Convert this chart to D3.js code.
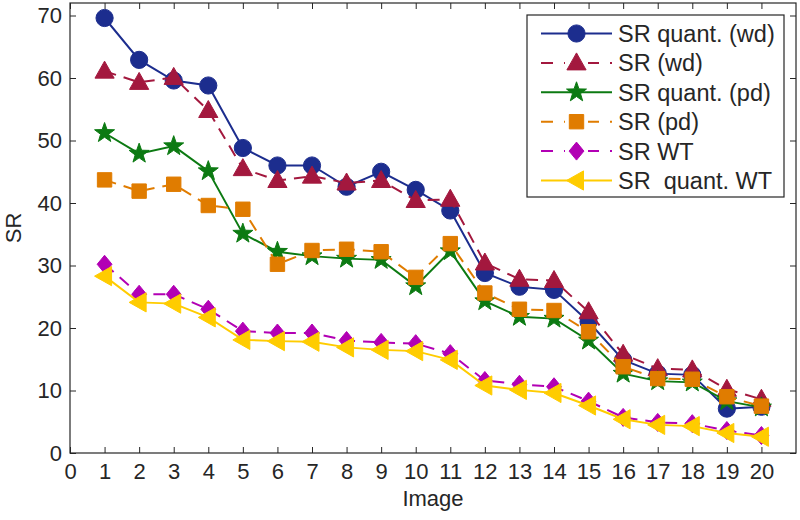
<!DOCTYPE html>
<html><head><meta charset="utf-8">
<script src="https://cdn.jsdelivr.net/npm/d3@7"></script>
<style>
body{margin:0;background:#fff;}
text{font-family:"Liberation Sans",Arial,sans-serif;fill:#262626;}
</style></head>
<body><svg id="c" width="800" height="520"></svg>
<script>
const images = d3.range(1, 21);
const xTicks = d3.range(0, 21);
const yTicks = [0, 10, 20, 30, 40, 50, 60, 70];
const seriesNames = ["SR quant. (wd)", "SR (wd)", "SR quant. (pd)", "SR (pd)", "SR WT", "SR  quant. WT"];
const srQuantWd = [69.6, 62.9, 59.6, 58.8, 48.8, 46.0, 46.0, 42.6, 45.0, 42.1, 38.8, 28.8, 26.6, 26.1, 21.0, 14.9, 12.7, 12.5, 7.1, 7.4];
const srWd      = [61.1, 59.3, 60.1, 54.8, 45.5, 43.6, 44.3, 43.2, 43.6, 40.4, 40.6, 30.4, 27.8, 27.6, 22.6, 15.8, 13.5, 13.3, 10.2, 8.6];
const srQuantPd = [51.2, 47.9, 49.1, 45.1, 35.1, 32.2, 31.5, 31.1, 30.9, 26.7, 32.3, 24.3, 21.8, 21.5, 18.0, 12.7, 11.5, 11.3, 8.3, 7.3];
const srPd      = [43.7, 41.9, 43.0, 39.6, 39.0, 30.2, 32.4, 32.6, 32.2, 28.1, 33.5, 25.6, 23.0, 22.8, 19.4, 13.8, 11.9, 11.8, 9.0, 7.5];
const srWT      = [30.2, 25.4, 25.4, 23.0, 19.5, 19.2, 19.2, 18.0, 17.7, 17.5, 15.9, 11.6, 11.0, 10.6, 8.3, 5.7, 4.9, 4.7, 3.6, 2.8];
const srQuantWT = [28.3, 24.1, 23.9, 21.7, 18.1, 17.9, 17.8, 16.9, 16.5, 16.3, 14.9, 10.8, 10.1, 9.6, 7.6, 5.4, 4.5, 4.3, 3.2, 2.6];
const seriesValues = [srQuantWd, srWd, srQuantPd, srPd, srWT, srQuantWT];
const seriesColors = ["#1c2d8e", "#a3183e", "#0c7a12", "#e07c00", "#b200b4", "#ffcc00"];
const seriesShapes = ["circle", "triangle", "star", "square", "diamond", "left"];
const seriesDashed = [false, true, false, true, true, false];

const svg = d3.select("#c");
const L = 70, R = 796, T = 3, B = 453;
const x = d3.scaleLinear().domain([0, 21]).range([L, R]);
const y = d3.scaleLinear().domain([0, 72]).range([B, T]);

function markerPath(shape) {
  const p = d3.path();
  if (shape === "circle") { p.arc(0, 0, 8.6, 0, 2 * Math.PI); }
  else if (shape === "triangle") { p.moveTo(0, -10); p.lineTo(9.6, 7); p.lineTo(-9.6, 7); p.closePath(); }
  else if (shape === "left") { p.moveTo(-10, 0); p.lineTo(7, -9.6); p.lineTo(7, 9.6); p.closePath(); }
  else if (shape === "square") { p.rect(-7.2, -7.2, 14.4, 14.4); }
  else if (shape === "diamond") { p.moveTo(0, -9); p.lineTo(7.4, 0); p.lineTo(0, 9); p.lineTo(-7.4, 0); p.closePath(); }
  else if (shape === "star") {
    const ro = 10.5, ri = 4.2;
    for (let k = 0; k < 10; k++) {
      const r = k % 2 ? ri : ro, a = -Math.PI / 2 + k * Math.PI / 5;
      if (k === 0) p.moveTo(r * Math.cos(a), r * Math.sin(a)); else p.lineTo(r * Math.cos(a), r * Math.sin(a));
    }
    p.closePath();
  }
  return p.toString();
}

// axes
const gx = svg.append("g").attr("transform", `translate(0,${B})`)
  .call(d3.axisBottom(x).tickValues(xTicks).tickSizeInner(-6).tickSizeOuter(0).tickPadding(10));
const gxt = svg.append("g").attr("transform", `translate(0,${T})`)
  .call(d3.axisTop(x).tickValues(xTicks).tickSizeInner(-6).tickSizeOuter(0).tickFormat(""));
const gy = svg.append("g").attr("transform", `translate(${L},0)`)
  .call(d3.axisLeft(y).tickValues(yTicks).tickSizeInner(-6).tickSizeOuter(0).tickPadding(8));
const gyr = svg.append("g").attr("transform", `translate(${R},0)`)
  .call(d3.axisRight(y).tickValues(yTicks).tickSizeInner(-6).tickSizeOuter(0).tickFormat(""));
[gx, gxt, gy, gyr].forEach(g => {
  g.select(".domain").remove();
  g.selectAll(".tick line").attr("stroke", "#262626");
  g.selectAll(".tick text").style("font-size", "22px").attr("fill", "#262626");
});
gx.selectAll(".tick text").attr("dy", "0.71em");
svg.append("rect").attr("x", L).attr("y", T).attr("width", R - L).attr("height", B - T)
  .attr("fill", "none").attr("stroke", "#262626").attr("stroke-width", 1.2);

svg.append("text").attr("x", (L + R) / 2).attr("y", 506).attr("text-anchor", "middle")
  .style("font-size", "22px").text("Image");
svg.append("text").attr("transform", `translate(21,${(T + B) / 2}) rotate(-90)`).attr("text-anchor", "middle")
  .style("font-size", "22px").text("SR");

// series
seriesValues.forEach((vals, i) => {
  const g = svg.append("g");
  const line = d3.line().x((d, j) => x(images[j])).y(d => y(d));
  g.append("path").datum(vals).attr("d", line).attr("fill", "none")
    .attr("stroke", seriesColors[i]).attr("stroke-width", 2)
    .attr("stroke-dasharray", seriesDashed[i] ? "12,8" : null);
  g.selectAll("path.m").data(vals).enter().append("path").attr("class", "m")
    .attr("d", markerPath(seriesShapes[i]))
    .attr("transform", (d, j) => `translate(${x(images[j])},${y(d)})`)
    .attr("fill", seriesColors[i]).attr("stroke", seriesColors[i]).attr("stroke-width", 1);
});

// legend
const lg = svg.append("g");
lg.append("rect").attr("x", 527).attr("y", 15).attr("width", 257).attr("height", 182)
  .attr("fill", "#fff").attr("stroke", "#262626").attr("stroke-width", 1.2);
seriesNames.forEach((name, i) => {
  const yy = 33.5 + i * 29.4;
  lg.append("line").attr("x1", 541).attr("x2", 612).attr("y1", yy).attr("y2", yy)
    .attr("stroke", seriesColors[i]).attr("stroke-width", 2)
    .attr("stroke-dasharray", seriesDashed[i] ? "12,11" : null);
  if (seriesDashed[i]) {
    lg.append("rect").attr("x", 565).attr("y", yy - 11).attr("width", 23).attr("height", 22).attr("fill", "#fff");
  }
  lg.append("path").attr("d", markerPath(seriesShapes[i])).attr("transform", `translate(576.5,${yy})`)
    .attr("fill", seriesColors[i]).attr("stroke", seriesColors[i]).attr("stroke-width", 1);
  lg.append("text").attr("x", 618).attr("y", yy).attr("dy", "0.36em")
    .attr("xml:space", "preserve").style("white-space", "pre")
    .style("font-size", "23.5px").text(name);
});
</script></body></html>
